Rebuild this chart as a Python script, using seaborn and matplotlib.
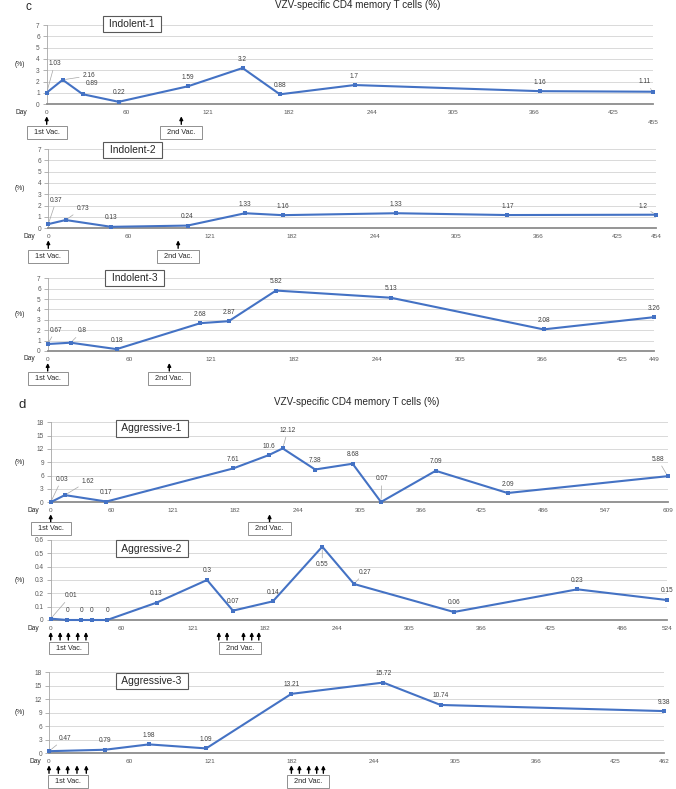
import matplotlib
matplotlib.use("Agg")
import matplotlib.pyplot as plt
import matplotlib.transforms as mtransforms
import seaborn as sns

# values: day after 1st vaccination, % VZV-specific CD4 memory T cells
ind1_days = [0, 12, 27, 54, 106, 147, 175, 231, 370, 455]
ind1_vals = [1.03, 2.16, 0.89, 0.22, 1.59, 3.2, 0.88, 1.7, 1.16, 1.11]
ind1_vac1 = [0]
ind1_vac2 = [101]

ind2_days = [0, 13, 47, 104, 147, 175, 260, 343, 454]
ind2_vals = [0.37, 0.73, 0.13, 0.24, 1.33, 1.16, 1.33, 1.17, 1.2]
ind2_vac1 = [0]
ind2_vac2 = [97]

ind3_days = [0, 17, 51, 113, 134, 169, 254, 367, 449]
ind3_vals = [0.67, 0.8, 0.18, 2.68, 2.87, 5.82, 5.13, 2.08, 3.26]
ind3_vac1 = [0]
ind3_vac2 = [90]

agg1_days = [0, 14, 55, 180, 215, 229, 261, 298, 326, 380, 451, 609]
agg1_vals = [0.03, 1.62, 0.17, 7.61, 10.6, 12.12, 7.38, 8.68, 0.07, 7.09, 2.09, 5.88]
agg1_vac1 = [0]
agg1_vac2 = [216]

agg2_days = [0, 14, 26, 35, 48, 90, 133, 155, 189, 231, 258, 343, 448, 524]
agg2_vals = [0.01, 0, 0, 0, 0, 0.13, 0.3, 0.07, 0.14, 0.55, 0.27, 0.06, 0.23, 0.15]
agg2_vac1 = [0, 8, 15, 23, 30]
agg2_vac2 = [143, 150, 164, 171, 177]

agg3_days = [0, 42, 75, 118, 182, 251, 294, 462]
agg3_vals = [0.47, 0.79, 1.98, 1.09, 13.21, 15.72, 10.74, 9.38]
agg3_vac1 = [0, 7, 14, 21, 28]
agg3_vac2 = [182, 188, 195, 201, 206]

ind_xticks = [0, 60, 121, 182, 244, 305, 366, 425]
ind_yticks = [0, 1, 2, 3, 4, 5, 6, 7]
agg_yticks = [0, 3, 6, 9, 12, 15, 18]
agg2_yticks = [0, 0.1, 0.2, 0.3, 0.4, 0.5, 0.6]
agg1_xticks = [0, 60, 121, 182, 244, 305, 366, 425, 486, 547, 609]
agg2_xticks = [0, 60, 121, 182, 244, 305, 366, 425, 486, 524]
agg3_xticks = [0, 60, 121, 182, 244, 305, 366, 425, 462]

sns.set_style("white")
plt.rcParams["font.family"] = ["Liberation Sans", "DejaVu Sans"]

W, H = 676, 789
fig = plt.figure(figsize=(W / 100, H / 100), dpi=100)
BLUE = "#4472C4"


def draw_panel(name, days, vals, xticks, yticks, vac1, vac2, box, name_xy,
               offsets, day_dx, vac_dy=-28, low_last=False):
    x0, y_top, x1, y_bot = box
    ax = fig.add_axes([x0 / W, 1 - y_bot / H, (x1 - x0) / W, (y_bot - y_top) / H])
    sns.lineplot(x=days, y=vals, ax=ax, color=BLUE, lw=1.5, marker="s",
                 markersize=3, markeredgewidth=0, clip_on=False, zorder=3)
    ax.set_xlim(0, xticks[-1])
    ax.set_ylim(0, yticks[-1])
    ax.set_xticks(xticks)
    labels = [str(t) for t in xticks]
    if low_last:
        labels[-1] = ""
        ax.annotate(str(xticks[-1]), xy=(xticks[-1], 0), xycoords=ax.get_xaxis_transform(),
                    xytext=(0, -18), textcoords="offset pixels", ha="center", va="center",
                    fontsize=4.6, color="#595959", annotation_clip=False)
    ax.set_xticklabels(labels)
    ax.set_yticks(yticks)
    ax.set_yticklabels([f"{t:g}" for t in yticks])
    ax.set_xlabel("")
    ax.set_ylabel("")
    ax.grid(axis="y", color="#d9d9d9", lw=0.7)
    ax.grid(axis="x", visible=False)
    ax.set_axisbelow(True)
    for s in ["top", "right"]:
        ax.spines[s].set_visible(False)
    ax.spines["bottom"].set_color("#8c8c8c")
    ax.spines["bottom"].set_linewidth(1.3)
    ax.spines["left"].set_color("#a6a6a6")
    ax.spines["left"].set_linewidth(0.6)
    ax.tick_params(axis="y", left=True, length=3, width=0.6, color="#a6a6a6",
                   pad=2, labelsize=4.7, labelcolor="#595959")
    ax.tick_params(axis="x", bottom=False, length=0, pad=4, labelsize=4.6,
                   labelcolor="#595959")

    # data labels
    for i, (d, v) in enumerate(zip(days, vals)):
        dx, dy, leader = offsets.get(i, (0, 9, False))
        props = None
        if leader:
            props = dict(arrowstyle="-", color="#a6a6a6", lw=0.5, shrinkA=0, shrinkB=2)
        ax.annotate(f"{v:g}", xy=(d, v), xytext=(dx, dy), textcoords="offset pixels",
                    ha="center", va="center", fontsize=4.7, color="#404040",
                    arrowprops=props, annotation_clip=False, zorder=4)

    # vaccination arrows and boxes
    xt = ax.get_xaxis_transform()
    head = mtransforms.offset_copy(xt, y=-12, units="dots")
    tail = mtransforms.offset_copy(xt, y=-20, units="dots")
    for d in vac1 + vac2:
        ax.annotate("", xy=(d, 0), xycoords=head, xytext=(d, 0), textcoords=tail,
                    arrowprops=dict(arrowstyle="-|>", color="black", lw=1.0,
                                    mutation_scale=5, shrinkA=0, shrinkB=0),
                    annotation_clip=False)
    for group, text in [(vac1, "1st Vac."), (vac2, "2nd Vac.")]:
        cx = sum(group) / len(group)
        ax.annotate(f"  {text}  ", xy=(cx, 0), xycoords=xt, xytext=(0, vac_dy),
                    textcoords="offset pixels", ha="center", va="center", fontsize=5.3,
                    color="#262626", annotation_clip=False,
                    bbox=dict(boxstyle="square,pad=0.4", fc="white", ec="#7f7f7f", lw=0.6))

    ax.annotate("Day", xy=(0, 0), xycoords="axes fraction", xytext=(day_dx, -8),
                textcoords="offset pixels", ha="center", va="center", fontsize=4.8,
                color="#262626", annotation_clip=False)
    ax.annotate("(%)", xy=(0, 0.5), xycoords="axes fraction", xytext=(20 - x0, 0),
                textcoords="offset pixels", ha="center", va="center", fontsize=4.8,
                color="#262626", annotation_clip=False)
    fig.text(name_xy[0] / W, 1 - name_xy[1] / H, f" {name} ", ha="center", va="center",
             fontsize=7.4, color="#262626",
             bbox=dict(boxstyle="square,pad=0.33", fc="white", ec="#595959", lw=0.8))
    return ax


draw_panel("Indolent-1", ind1_days, ind1_vals, ind_xticks + [455], ind_yticks,
           ind1_vac1, ind1_vac2, (46.7, 25, 653, 104.3), (132, 24),
           {0: (8, 29, True), 1: (26, 4, True), 2: (9, 11, False), 9: (-8, 10, True)},
           -25, low_last=True)
draw_panel("Indolent-2", ind2_days, ind2_vals, ind_xticks + [454], ind_yticks,
           ind2_vac1, ind2_vac2, (48.3, 149, 656, 228.3), (132.5, 150),
           {0: (8, 24, True), 1: (17, 12, True), 8: (-13, 8, True)}, -19)
draw_panel("Indolent-3", ind3_days, ind3_vals, ind_xticks + [449], ind_yticks,
           ind3_vac1, ind3_vac2, (47.7, 278.3, 654.3, 351), (134.5, 278),
           {0: (8, 14, True), 1: (12, 12, True)}, -18, vac_dy=-27.5)
draw_panel("Aggressive-1", agg1_days, agg1_vals, agg1_xticks, agg_yticks,
           agg1_vac1, agg1_vac2, (50.7, 422.3, 667.7, 502.3), (151.7, 428.5),
           {0: (11, 23, True), 1: (23, 14, True), 5: (5, 18, True),
            8: (1, 23, True), 11: (-10, 17, True)}, -17.5, vac_dy=-26)
draw_panel("Aggressive-2", agg2_days, agg2_vals, agg2_xticks, agg2_yticks,
           agg2_vac1, agg2_vac2, (50.7, 540, 666.7, 620), (151.7, 548.5),
           {0: (20, 23, True), 9: (0, -18, True), 10: (11, 12, True)}, -17)
draw_panel("Aggressive-3", agg3_days, agg3_vals, agg3_xticks, agg_yticks,
           agg3_vac1, agg3_vac2, (49, 672.3, 664.3, 753.3), (152, 681),
           {0: (16, 13, True)}, -14)

title = "VZV-specific CD4 memory T cells (%)"
fig.text(358 / W, 1 - 5 / H, title, ha="center", va="center", fontsize=7.1, color="#262626")
fig.text(357 / W, 1 - 402 / H, title, ha="center", va="center", fontsize=7.1, color="#262626")
fig.text(28 / W, 1 - 7 / H, "c", ha="center", va="center", fontsize=8.5)
fig.text(22 / W, 1 - 405 / H, "d", ha="center", va="center", fontsize=9.5)

fig.savefig("out.png", dpi=100)
